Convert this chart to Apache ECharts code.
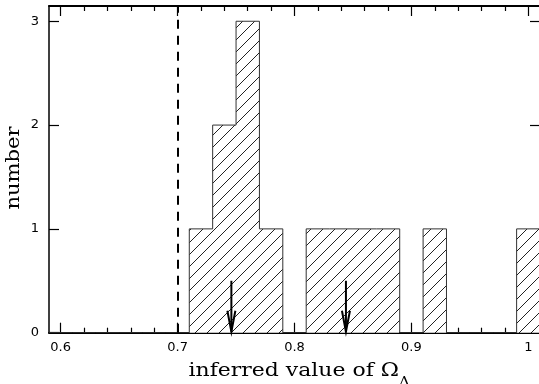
<!DOCTYPE html>
<html>
<head>
<meta charset="utf-8">
<script src="https://cdn.jsdelivr.net/npm/echarts@6/dist/echarts.min.js"></script>
<style>
  html, body { margin: 0; padding: 0; background: #fff; }
  #chart { width: 539px; height: 384px; }
</style>
</head>
<body>
<div id="chart"></div>
<script>
// Histogram of the inferred value of Omega_Lambda (bins of width 0.02)
const binStarts = [0.59, 0.61, 0.63, 0.65, 0.67, 0.69, 0.71, 0.73, 0.75, 0.77, 0.79,
                   0.81, 0.83, 0.85, 0.87, 0.89, 0.91, 0.93, 0.95, 0.97, 0.99];
const counts    = [0, 0, 0, 0, 0, 0, 1, 2, 3, 1, 0,
                   1, 1, 1, 1, 0, 1, 0, 0, 0, 1];
const binWidth = 0.02;

// vertical dashed reference value
const referenceValue = 0.7;

// arrows marking the two estimates
const arrowX   = [0.746, 0.844];
const arrowTop = [0.5, 0.5];

// axis ticks and labels
const xMajorTicks = [0.6, 0.7, 0.8, 0.9, 1.0];
const xMinorTicks = [0.62, 0.64, 0.66, 0.68, 0.72, 0.74, 0.76, 0.78,
                     0.82, 0.84, 0.86, 0.88, 0.92, 0.94, 0.96, 0.98];
const yTicks = [0, 1, 2, 3];
const xRange = [0.59, 1.01];
const yRange = [0, 3.147];

// step outline points: left edge of every bin, then the right edge of the last one
const stepPoints = binStarts.map((s, i) => [s, counts[i]]);
stepPoints.push([binStarts[binStarts.length - 1] + binWidth, counts[counts.length - 1]]);

// diagonal hatching tile, strokes rising to the right
function hatchTile() {
  const s = 12;
  const c = document.createElement('canvas');
  c.width = s; c.height = s;
  const ctx = c.getContext('2d');
  ctx.fillStyle = '#fff';
  ctx.fillRect(0, 0, s, s);
  ctx.strokeStyle = '#222';
  ctx.lineWidth = 1;
  ctx.beginPath();
  ctx.moveTo(-1, s + 1); ctx.lineTo(s + 1, -1);
  ctx.moveTo(-1, 1); ctx.lineTo(1, -1);
  ctx.moveTo(s - 1, s + 1); ctx.lineTo(s + 1, s - 1);
  ctx.stroke();
  return c;
}

const tickFont = { color: '#000', fontFamily: 'DejaVu Sans', fontSize: 13 };
const frame = (w) => ({ show: true, lineStyle: { color: '#000', width: w } });

function xAxisDef(position, ticks, len, withLine, withLabels) {
  return {
    type: 'value', position, min: xRange[0], max: xRange[1],
    axisLine: withLine ? frame(2) : { show: false },
    axisTick: { show: true, inside: true, length: len, customValues: ticks,
                lineStyle: { color: '#000', width: 1.2 } },
    axisLabel: withLabels
      ? Object.assign({ show: true, margin: 8, customValues: ticks,
          formatter: v => String(Math.round(v * 10) / 10) }, tickFont)
      : { show: false },
    splitLine: { show: false }
  };
}

function yAxisDef(position, withLabels) {
  return {
    type: 'value', position, min: yRange[0], max: yRange[1],
    axisLine: frame(1.5),
    axisTick: { show: true, inside: true, length: 10, customValues: yTicks,
                lineStyle: { color: '#000', width: 1.2 } },
    axisLabel: withLabels
      ? Object.assign({ show: true, margin: 10, customValues: yTicks }, tickFont)
      : { show: false },
    splitLine: { show: false }
  };
}

const chart = echarts.init(document.getElementById('chart'), null, { renderer: 'canvas' });

chart.setOption({
  animation: false,
  backgroundColor: '#fff',
  grid: { left: 49, top: 6, width: 491, height: 326.7, containLabel: false, outerBoundsMode: 'none' },
  xAxis: [
    xAxisDef('bottom', xMajorTicks, 10, true, true),
    xAxisDef('bottom', xMinorTicks, 5, false, false),
    xAxisDef('top', xMajorTicks, 10, true, false),
    xAxisDef('top', xMinorTicks, 5, false, false)
  ],
  yAxis: [
    yAxisDef('left', true),
    yAxisDef('right', false)
  ],
  series: [
    {
      type: 'line',
      xAxisIndex: 0, yAxisIndex: 0,
      data: stepPoints,
      step: 'end',
      symbol: 'none',
      lineStyle: { color: '#333', width: 1 },
      areaStyle: { color: { image: hatchTile(), repeat: 'repeat' }, opacity: 1 },
      markLine: {
        silent: true,
        symbol: ['none', 'none'],
        label: { show: false },
        lineStyle: { color: '#000', width: 2, type: [9, 7] },
        data: [{ xAxis: referenceValue }]
      },
      z: 2
    },
    {
      type: 'custom',
      xAxisIndex: 0, yAxisIndex: 0,
      data: arrowX.map((x, i) => [x, arrowTop[i]]),
      encode: { x: 0, y: 1 },
      z: 5,
      renderItem(params, api) {
        const top = api.coord([api.value(0), api.value(1)]);
        const tip = api.coord([api.value(0), 0]);
        return {
          type: 'group',
          children: [
            { type: 'line', shape: { x1: top[0], y1: top[1], x2: tip[0], y2: tip[1] - 1 },
              style: { stroke: '#000', lineWidth: 2 } },
            { type: 'polyline',
              shape: { points: [[tip[0] - 4, tip[1] - 22], [tip[0], tip[1] - 1], [tip[0] + 4, tip[1] - 22]] },
              style: { stroke: '#000', lineWidth: 2, fill: null } }
          ]
        };
      }
    }
  ],
  graphic: [
    {
      type: 'text', x: 14, y: 168, rotation: Math.PI / 2, scaleX: 1.17,
      style: { text: 'number', fontFamily: 'DejaVu Serif', fontSize: 18, fill: '#000',
               align: 'center', verticalAlign: 'middle' }
    },
    {
      type: 'text', x: 299, y: 362, scaleX: 1.22,
      style: {
        text: '{a|inferred value of Ω}{s|Λ}',
        fill: '#000', align: 'center', verticalAlign: 'top',
        rich: {
          a: { fontFamily: 'DejaVu Serif', fontSize: 18, lineHeight: 20, verticalAlign: 'top' },
          s: { fontFamily: 'DejaVu Serif', fontSize: 12, lineHeight: 27, verticalAlign: 'bottom' }
        }
      }
    }
  ]
});
</script>
</body>
</html>
